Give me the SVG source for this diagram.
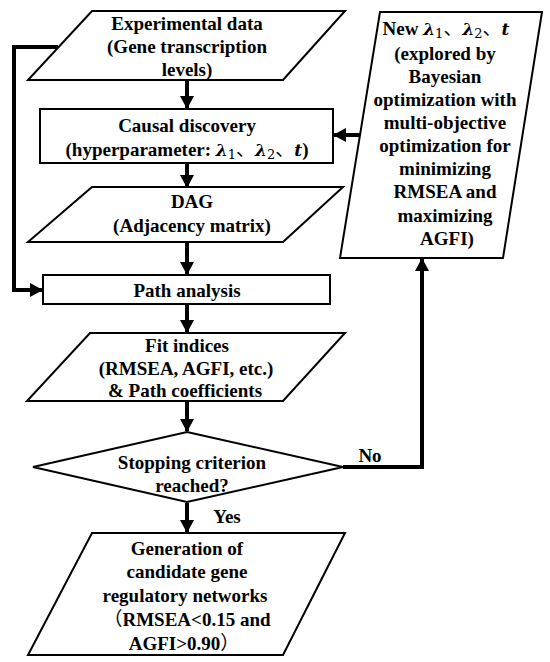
<svg xmlns="http://www.w3.org/2000/svg" width="550" height="662" viewBox="0 0 550 662">
<style>
.shape{fill:#fff;stroke:#000;stroke-width:2}
.conn{fill:none;stroke:#000;stroke-width:4}
text{font-family:'Liberation Serif','DejaVu Serif',serif;font-size:19px;font-weight:bold;fill:#000;text-anchor:middle}
.gr{font-style:italic;font-family:'DejaVu Serif',serif;font-size:17px}
.sub{font-size:13px;font-family:'DejaVu Serif',serif;font-weight:normal}
.cjk{font-family:'Noto Sans CJK SC',sans-serif;font-weight:normal}
</style>
<defs>
<marker id="ah" markerUnits="userSpaceOnUse" markerWidth="13" markerHeight="14" refX="12" refY="7" orient="auto">
<path d="M0,0 L13,7 L0,14 z" fill="#000"/>
</marker>
</defs>
<rect width="550" height="662" fill="#fff"/>
<g id="connectors">
<line class="conn" x1="187" y1="80" x2="187" y2="108" marker-end="url(#ah)"/>
<line class="conn" x1="187" y1="164" x2="187" y2="187" marker-end="url(#ah)"/>
<line class="conn" x1="187" y1="242" x2="187" y2="274" marker-end="url(#ah)"/>
<line class="conn" x1="187" y1="305" x2="187" y2="332" marker-end="url(#ah)"/>
<line class="conn" x1="187" y1="402" x2="187" y2="431" marker-end="url(#ah)"/>
<line class="conn" x1="187" y1="503" x2="187" y2="532" marker-end="url(#ah)"/>
<polyline class="conn" points="58,47 14,47 14,290 42,290" marker-end="url(#ah)"/>
<line class="conn" x1="361" y1="135" x2="334" y2="135" marker-end="url(#ah)"/>
<polyline class="conn" points="343,467 422,467 422,259" marker-end="url(#ah)"/>
<text x="370" y="462">No</text>
<text x="227" y="523">Yes</text>
</g>
<g id="experimental-data">
<polygon class="shape" points="92,11 345,11 283,80 28,80"/>
<text x="187" y="30">Experimental data</text>
<text x="187" y="53">(Gene transcription</text>
<text x="187" y="76">levels)</text>
</g>
<g id="causal-discovery">
<rect class="shape" x="40" y="109" width="293" height="54"/>
<text x="187" y="132">Causal discovery</text>
<text x="187" y="156">(hyperparameter: <tspan class="gr">λ</tspan><tspan class="sub" dy="3">1</tspan><tspan class="cjk" dy="-3">、</tspan><tspan class="gr">λ</tspan><tspan class="sub" dy="3">2</tspan><tspan class="cjk" dy="-3">、</tspan><tspan class="gr">t</tspan>)</text>
</g>
<g id="dag">
<polygon class="shape" points="92,187 343,187 283,242 28,242"/>
<text x="192" y="208">DAG</text>
<text x="192" y="232">(Adjacency matrix)</text>
</g>
<g id="path-analysis">
<rect class="shape" x="43" y="275" width="287" height="29"/>
<text x="187" y="297">Path analysis</text>
</g>
<g id="fit-indices">
<polygon class="shape" points="90,333 345,333 283,401 27,401"/>
<text x="187" y="352">Fit indices</text>
<text x="186" y="375">(RMSEA, AGFI, etc.)</text>
<text x="185" y="397">&amp; Path coefficients</text>
</g>
<g id="stopping-criterion">
<polygon class="shape" points="187,432 343,467 187,502 33,467"/>
<text x="192" y="469">Stopping criterion</text>
<text x="192" y="492">reached?</text>
</g>
<g id="new-hyperparameters">
<polygon class="shape" points="380,12 542,12 503,258 340,258"/>
<text x="446" y="35">New <tspan class="gr">λ</tspan><tspan class="sub" dy="3">1</tspan><tspan class="cjk" dy="-3">、</tspan><tspan class="gr">λ</tspan><tspan class="sub" dy="3">2</tspan><tspan class="cjk" dy="-3">、</tspan><tspan class="gr">t</tspan></text>
<text x="445" y="60">(explored by</text>
<text x="445" y="83">Bayesian</text>
<text x="445" y="106">optimization with</text>
<text x="445" y="129">multi-objective</text>
<text x="445" y="152">optimization for</text>
<text x="445" y="175">minimizing</text>
<text x="445" y="198">RMSEA and</text>
<text x="445" y="222">maximizing</text>
<text x="447" y="245">AGFI)</text>
</g>
<g id="generation">
<polygon class="shape" points="92,533 345,533 283,655 28,655"/>
<text x="187" y="555">Generation of</text>
<text x="187" y="578">candidate gene</text>
<text x="185" y="602">regulatory networks</text>
<text x="187" y="626"><tspan class="cjk">（</tspan>RMSEA&lt;0.15 and</text>
<text x="184" y="650">AGFI&gt;0.90<tspan class="cjk">）</tspan></text>
</g>
</svg>
